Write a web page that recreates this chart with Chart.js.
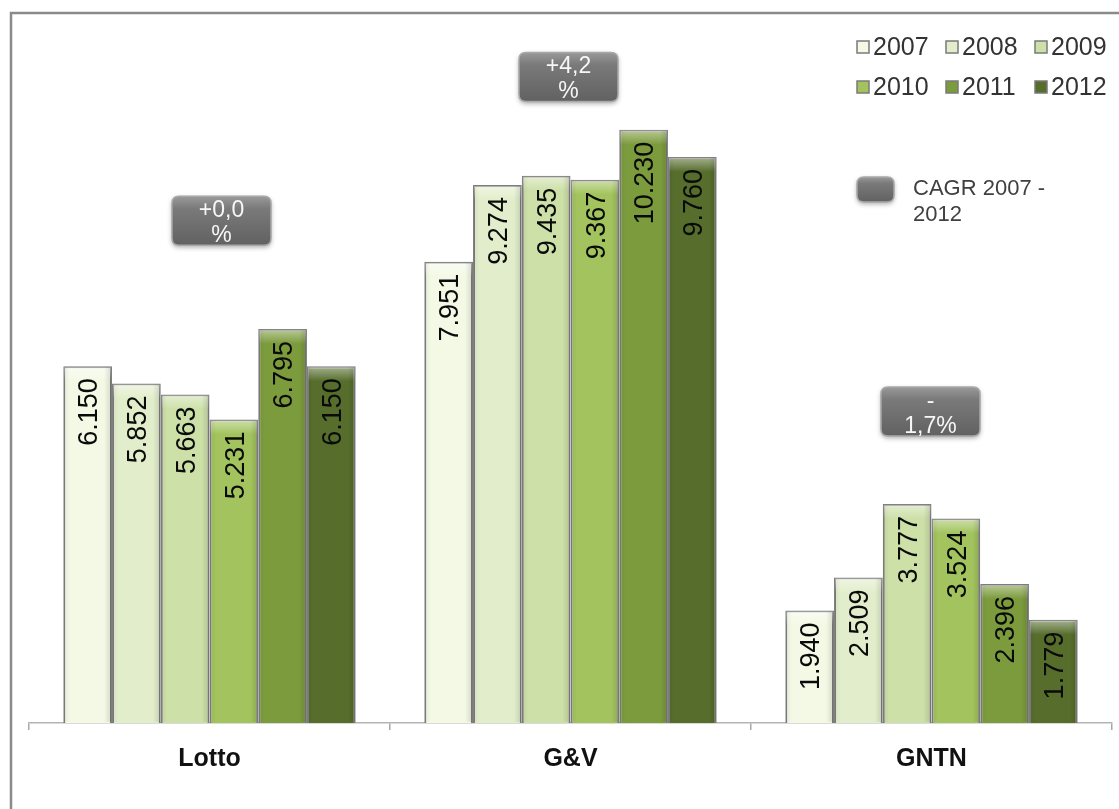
<!DOCTYPE html>
<html>
<head>
<meta charset="utf-8">
<script src="https://cdn.jsdelivr.net/npm/chart.js@4"></script>
<style>
  html, body { margin: 0; padding: 0; background: #fff; }
  #wrap { width: 1119px; height: 809px; position: relative; }
</style>
</head>
<body>
<div id="wrap"><canvas id="myChart"></canvas></div>
<script>
var categories = ['Lotto', 'G&V', 'GNTN'];
var years = ['2007', '2008', '2009', '2010', '2011', '2012'];

var values2007 = [6150, 7951, 1940];
var values2008 = [5852, 9274, 2509];
var values2009 = [5663, 9435, 3777];
var values2010 = [5231, 9367, 3524];
var values2011 = [6795, 10230, 2396];
var values2012 = [6150, 9760, 1779];

// CAGR 2007 - 2012 per category, split on two lines like the boxes
var cagrLines = [['+0,0', '%'], ['+4,2', '%'], ['-', '1,7%']];
var cagrLegend = ['CAGR 2007 -', '2012'];

var series = [values2007, values2008, values2009, values2010, values2011, values2012];
var barColors = ['#f4f9e6', '#e2eecb', '#cde0a8', '#a2c35d', '#7c9b3d', '#566d2c'];

var FONT = '"Liberation Sans", Arial, sans-serif';

function fmt(v) {
    var s = String(v);
    if (v >= 1000) s = Math.floor(v / 1000) + '.' + String(v % 1000).padStart(3, '0');
    return s;
}

function roundRect(ctx, x, y, w, h, r) {
    ctx.beginPath();
    ctx.moveTo(x + r, y);
    ctx.lineTo(x + w - r, y);
    ctx.quadraticCurveTo(x + w, y, x + w, y + r);
    ctx.lineTo(x + w, y + h - r);
    ctx.quadraticCurveTo(x + w, y + h, x + w - r, y + h);
    ctx.lineTo(x + r, y + h);
    ctx.quadraticCurveTo(x, y + h, x, y + h - r);
    ctx.lineTo(x, y + r);
    ctx.quadraticCurveTo(x, y, x + r, y);
    ctx.closePath();
}

function grayBox(ctx, x, y, w, h) {
    ctx.save();
    ctx.shadowColor = 'rgba(0,0,0,0.35)';
    ctx.shadowBlur = 5;
    ctx.shadowOffsetY = 2;
    var g = ctx.createLinearGradient(0, y, 0, y + h);
    g.addColorStop(0, '#9a9a9a');
    g.addColorStop(0.25, '#7a7a7a');
    g.addColorStop(1, '#616161');
    roundRect(ctx, x, y, w, h, 7);
    ctx.fillStyle = g;
    ctx.fill();
    ctx.restore();
    ctx.save();
    roundRect(ctx, x, y, w, h, 7);
    ctx.strokeStyle = '#a8a8a8';
    ctx.lineWidth = 1.5;
    ctx.stroke();
    ctx.restore();
}

// white page with the grey frame on the left and top edge
var framePlugin = {
    id: 'frame',
    beforeDraw: function(chart) {
        var ctx = chart.ctx;
        ctx.save();
        ctx.fillStyle = '#fff';
        ctx.fillRect(0, 0, chart.width, chart.height);
        ctx.strokeStyle = '#8a8a8a';
        ctx.lineWidth = 2.5;
        ctx.beginPath();
        ctx.moveTo(11, chart.height);
        ctx.lineTo(11, 13);
        ctx.lineTo(chart.width, 13);
        ctx.stroke();
        ctx.restore();
    }
};

// soft bevel on the bars, then rotated value labels near the top
var barLabels = {
    id: 'barLabels',
    afterDatasetsDraw: function(chart) {
        var ctx = chart.ctx;
        var size = 27;
        chart.data.datasets.forEach(function(ds, i) {
            chart.getDatasetMeta(i).data.forEach(function(bar) {
                var left = bar.x - bar.width / 2 + 1, w = bar.width - 2;
                var top = bar.y + 1, h = bar.base - bar.y - 2;
                ctx.save();
                var g = ctx.createLinearGradient(0, top, 0, top + Math.min(h, 14));
                g.addColorStop(0, 'rgba(255,255,255,0.45)');
                g.addColorStop(1, 'rgba(255,255,255,0)');
                ctx.fillStyle = g;
                ctx.fillRect(left, top, w, Math.min(h, 14));
                var e = ctx.createLinearGradient(left, 0, left + w, 0);
                e.addColorStop(0, 'rgba(0,0,0,0.06)');
                e.addColorStop(0.12, 'rgba(0,0,0,0)');
                e.addColorStop(0.85, 'rgba(0,0,0,0)');
                e.addColorStop(1, 'rgba(0,0,0,0.12)');
                ctx.fillStyle = e;
                ctx.fillRect(left, top, w, h);
                ctx.restore();
            });
        });
        ctx.save();
        ctx.font = size + 'px ' + FONT;
        ctx.fillStyle = '#0a0a0a';
        ctx.textAlign = 'right';
        ctx.textBaseline = 'alphabetic';
        chart.data.datasets.forEach(function(ds, i) {
            chart.getDatasetMeta(i).data.forEach(function(bar, j) {
                ctx.save();
                ctx.translate(bar.x, bar.y + 12);
                ctx.rotate(-Math.PI / 2);
                ctx.fillText(fmt(ds.data[j]), 0, size * 0.36);
                ctx.restore();
            });
        });
        ctx.restore();
    }
};

// CAGR boxes above each group
var cagrBoxes = {
    id: 'cagrBoxes',
    afterDraw: function(chart, args, opts) {
        var ctx = chart.ctx;
        var xs = chart.scales.x, ys = chart.scales.y;
        cagrLines.forEach(function(lines, i) {
            var cx = xs.getPixelForValue(i) + opts.dx[i];
            var cy = ys.getPixelForValue(opts.anchor[i]);
            var w = 99, h = 49;
            grayBox(ctx, cx - w / 2, cy - h / 2, w, h);
            ctx.save();
            ctx.font = '23px ' + FONT;
            ctx.fillStyle = '#f7f7f7';
            ctx.textAlign = 'center';
            ctx.textBaseline = 'middle';
            ctx.fillText(lines[0], cx, cy - 10);
            ctx.fillText(lines[1], cx, cy + 15);
            ctx.restore();
        });
    }
};

// two-row legend in the top right plus the CAGR key
var legendGrid = {
    id: 'legendGrid',
    afterDraw: function(chart) {
        var ctx = chart.ctx;
        ctx.save();
        ctx.font = '25px ' + FONT;
        ctx.textBaseline = 'middle';
        ctx.textAlign = 'left';
        chart.data.datasets.forEach(function(ds, i) {
            var col = i % 3, row = Math.floor(i / 3);
            var x = 857 + col * 89, y = 47 + row * 40;
            ctx.fillStyle = ds.backgroundColor;
            ctx.fillRect(x, y - 6, 12, 12);
            ctx.strokeStyle = '#7a7a7a';
            ctx.lineWidth = 1.5;
            ctx.strokeRect(x, y - 6, 12, 12);
            ctx.fillStyle = '#333';
            ctx.fillText(ds.label, x + 16, y + 1);
        });
        ctx.restore();

        grayBox(ctx, 857, 177, 37, 25);
        ctx.save();
        ctx.font = '22px ' + FONT;
        ctx.fillStyle = '#404040';
        ctx.textBaseline = 'middle';
        ctx.fillText(cagrLegend[0], 913, 189);
        ctx.fillText(cagrLegend[1], 913, 215);
        ctx.restore();
    }
};

var ctx = document.getElementById('myChart').getContext('2d');
var myChart = new Chart(ctx, {
    type: 'bar',
    data: {
        labels: categories,
        datasets: years.map(function(y, i) {
            return {
                label: y,
                data: series[i],
                backgroundColor: barColors[i],
                borderColor: '#7d7d7d',
                borderWidth: 2,
                categoryPercentage: 0.81,
                barPercentage: 1.0
            };
        })
    },
    options: {
        responsive: true,
        maintainAspectRatio: false,
        animation: false,
        devicePixelRatio: 1,
        layout: { padding: { top: 27, left: 29, right: 7, bottom: 0 } },
        plugins: {
            legend: { display: false },
            tooltip: { enabled: false },
            cagrBoxes: { anchor: [8660, 11140, 5370], dx: [12, -2, -1] }
        },
        scales: {
            x: {
                border: { display: true, color: '#b4b4b4', width: 1.5 },
                grid: { display: true, drawOnChartArea: false, drawTicks: true, tickLength: 7, color: '#a8a8a8', lineWidth: 1.5 },
                ticks: { color: '#111', padding: 14, font: { family: FONT, size: 25, weight: 'bold' } },
                afterFit: function(scale) { scale.height = 86; }
            },
            y: {
                display: false,
                min: 0,
                max: 12000
            }
        }
    },
    plugins: [framePlugin, barLabels, cagrBoxes, legendGrid]
});
</script>
</body>
</html>
